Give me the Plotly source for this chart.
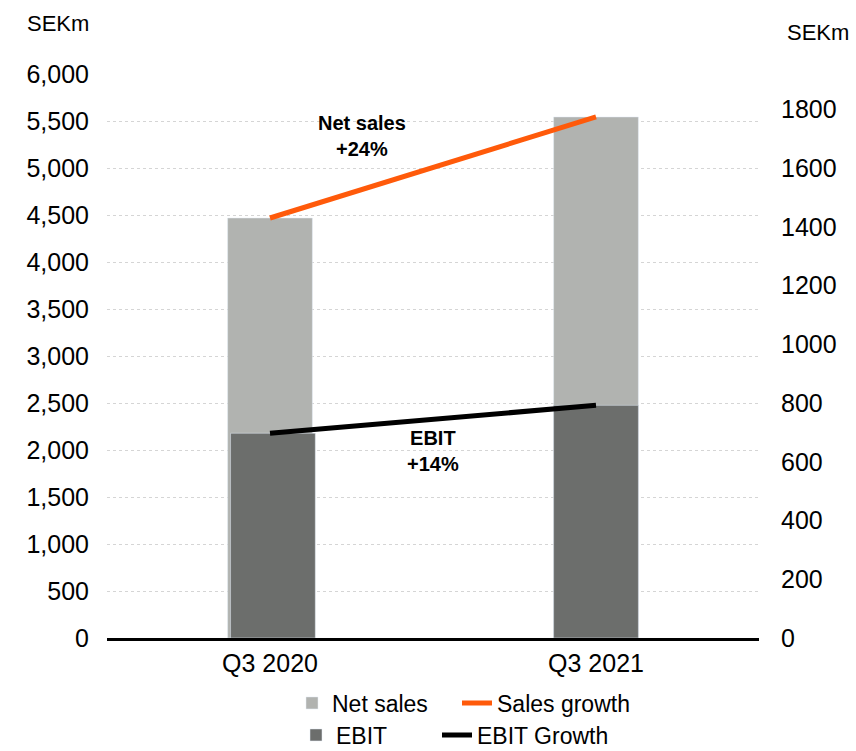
import plotly.graph_objects as go

categories = ["Q3 2020", "Q3 2021"]
net_sales = [4468, 5543]
ebit = [697, 792]

left_ticks = list(range(0, 6001, 500))
right_ticks = list(range(0, 1801, 200))

FONT = "Liberation Sans, Arial, sans-serif"
LIGHT = "#B1B3B0"
DARK = "#6C6E6C"
ORANGE = "#FF5A0A"
BAR_W = 0.26

fig = go.Figure()
fig.add_trace(go.Bar(x=categories, y=net_sales, name="Net sales", marker_color=LIGHT,
                     width=BAR_W, yaxis="y", legend="legend"))
fig.add_trace(go.Scatter(x=categories, y=net_sales, name="Sales growth", mode="lines",
                         line=dict(color=ORANGE, width=5), yaxis="y", legend="legend2"))
fig.add_trace(go.Bar(x=categories, y=ebit, name="EBIT", marker_color=DARK,
                     width=BAR_W, offset=[-BAR_W / 2 + 0.009, -BAR_W / 2],
                     yaxis="y2", legend="legend3"))
fig.add_trace(go.Scatter(x=categories, y=ebit, name="EBIT Growth", mode="lines",
                         line=dict(color="#000000", width=5), yaxis="y2", legend="legend4"))

PL, PT, PW, PH = 107, 74, 652, 564


def px_x(v):
    return (v - PL) / PW


def px_y(v):
    return (PT + PH - v) / PH


def leg(x, y):
    return dict(orientation="h", x=px_x(x), xanchor="left", y=px_y(y), yanchor="middle",
                font=dict(size=23), bgcolor="rgba(0,0,0,0)")


fig.update_layout(
    width=856, height=751,
    margin=dict(l=PL, r=856 - PL - PW, t=PT, b=751 - PT - PH, autoexpand=False),
    paper_bgcolor="white", plot_bgcolor="white",
    font=dict(family=FONT, size=25, color="#000000"),
    barmode="overlay",
    xaxis=dict(showline=True, linecolor="#000000", linewidth=3, showgrid=False,
               ticks="", ticklabelstandoff=1, tickfont=dict(size=25)),
    yaxis=dict(range=[0, 6000], tickvals=left_ticks, tickformat=",", showgrid=True,
               gridcolor="#D5D5D5", griddash="dot", gridwidth=1, zeroline=False,
               ticks="", ticklabelstandoff=17, tickfont=dict(size=25)),
    yaxis2=dict(range=[0, 1920], tickvals=right_ticks, overlaying="y", side="right",
                showgrid=False, zeroline=False, ticks="", ticklabelstandoff=21,
                tickfont=dict(size=25)),
    legend=leg(292, 703),
    legend2=leg(457, 703),
    legend3=leg(296, 735),
    legend4=leg(437, 735),
    showlegend=True,
    annotations=[
        dict(text="SEKm", xref="paper", yref="paper", x=px_x(58), y=px_y(24),
             showarrow=False, font=dict(size=22), xanchor="center", yanchor="middle"),
        dict(text="SEKm", xref="paper", yref="paper", x=px_x(818), y=px_y(33),
             showarrow=False, font=dict(size=22), xanchor="center", yanchor="middle"),
        dict(text="<b>Net sales</b><br><b>+24%</b>", xref="paper", yref="paper",
             x=px_x(362), y=px_y(136), showarrow=False,
             font=dict(size=20), xanchor="center", yanchor="middle"),
        dict(text="<b>EBIT</b><br><b>+14%</b>", xref="paper", yref="paper",
             x=px_x(433), y=px_y(451), showarrow=False,
             font=dict(size=20), xanchor="center", yanchor="middle"),
    ],
)

fig.write_html("out.html")
